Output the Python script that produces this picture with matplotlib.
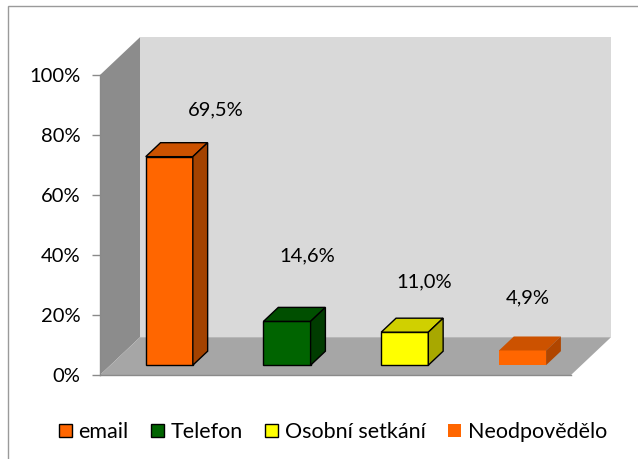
import matplotlib
matplotlib.use("Agg")
import matplotlib.pyplot as plt
from matplotlib.patches import Polygon, Rectangle, Patch

plt.rcParams['font.family'] = ['Lato', 'DejaVu Sans']

# Data
categories = ["email", "Telefon", "Osobní setkání", "Neodpovědělo"]
values = [69.5, 14.6, 11.0, 4.9]
value_labels = ["69,5%", "14,6%", "11,0%", "4,9%"]
ytick_values = [0, 20, 40, 60, 80, 100]
ytick_labels = ["0%", "20%", "40%", "60%", "80%", "100%"]

# Styles
front_colors = ["#FF6600", "#006400", "#FFFF00", "#FF6600"]
top_colors = ["#CC5200", "#004F00", "#D0D000", "#CC5200"]
side_colors = ["#A34200", "#003C00", "#A8A800", "#B04600"]
edge_colors = ["black", "black", "black", "none"]

# Oblique projection: one unit of depth moves this far in data units
DX = 0.34
DY = 12.6
BAR_HALF = 0.2
Z0, Z1 = 0.26, 0.63

# Label placement relative to each bar (layout only)
label_dx = [0.48, 0.26, 0.25, 0.13]
label_dy = [18.8, 25.1, 20.0, 20.8]

W, H = 638, 459
fig = plt.figure(figsize=(W / 100, H / 100), dpi=100)
ax = fig.add_axes([100 / W, (H - 375) / H, 471 / W, 300 / H])
ax.set_xlim(-0.5, 3.5)
ax.set_ylim(0, 100)


def proj(x, y, z):
    return (x + z * DX, y + z * DY)


def face(pts, fc, ec="none", lw=0.0, zorder=1):
    poly = Polygon([proj(*p) for p in pts], closed=True, facecolor=fc,
                   edgecolor=ec, linewidth=lw, clip_on=False, zorder=zorder,
                   joinstyle="miter")
    ax.add_patch(poly)


xl, xr = -0.5, 3.5
# side wall, back wall, floor
face([(xl, 0, 0), (xl, 100, 0), (xl, 100, 1), (xl, 0, 1)], "#8C8C8C", zorder=0.5)
face([(xl, 0, 1), (xl, 100, 1), (xr, 100, 1), (xr, 0, 1)], "#D9D9D9", zorder=0.5)
face([(xl, 0, 0), (xr, 0, 0), (xr, 0, 1), (xl, 0, 1)], "#A6A6A6", zorder=0.6)

# bars
for i, v in enumerate(values):
    x0, x1 = i - BAR_HALF, i + BAR_HALF
    ec = edge_colors[i]
    lw = 1.0 if ec != "none" else 0
    face([(x0, 0, Z0), (x1, 0, Z0), (x1, v, Z0), (x0, v, Z0)], front_colors[i], ec, lw, 2)
    face([(x0, v, Z0), (x1, v, Z0), (x1, v, Z1), (x0, v, Z1)], top_colors[i], ec, lw, 2)
    face([(x1, 0, Z0), (x1, 0, Z1), (x1, v, Z1), (x1, v, Z0)], side_colors[i], ec, lw, 2)
    ax.text(i + label_dx[i], v + label_dy[i], value_labels[i], ha="center",
            va="center", fontsize=14.5, color="black", zorder=3)

# axes styling
for s in ["top", "right"]:
    ax.spines[s].set_visible(False)
for s in ["left", "bottom"]:
    ax.spines[s].set_color("#8A8A8A")
    ax.spines[s].set_linewidth(1.0)
    ax.spines[s].set_zorder(1.5)
ax.set_xticks([])
ax.set_yticks(ytick_values)
ax.set_yticklabels(ytick_labels, fontsize=14.5)
ax.tick_params(axis="y", length=6, width=1, color="#8A8A8A", pad=8)
ax.patch.set_visible(False)

# outer frame
fig.add_artist(Rectangle((8 / W, -0.1), 1.2, 1 - 6 / H + 0.1, transform=fig.transFigure,
                         fill=False, edgecolor="#9A9A9A", linewidth=1.0))

# legend
handles = [Patch(facecolor=front_colors[i], edgecolor=edge_colors[i],
                 linewidth=1.0 if edge_colors[i] != "none" else 0)
           for i in range(len(categories))]
fig.legend(handles, categories, loc="center", bbox_to_anchor=(333 / W, 1 - 432 / H),
           ncol=4, frameon=False, fontsize=15.5, handlelength=0.6, handleheight=0.6,
           handletextpad=0.3, columnspacing=1.05, borderaxespad=0)

fig.savefig("out.png", dpi=100)
